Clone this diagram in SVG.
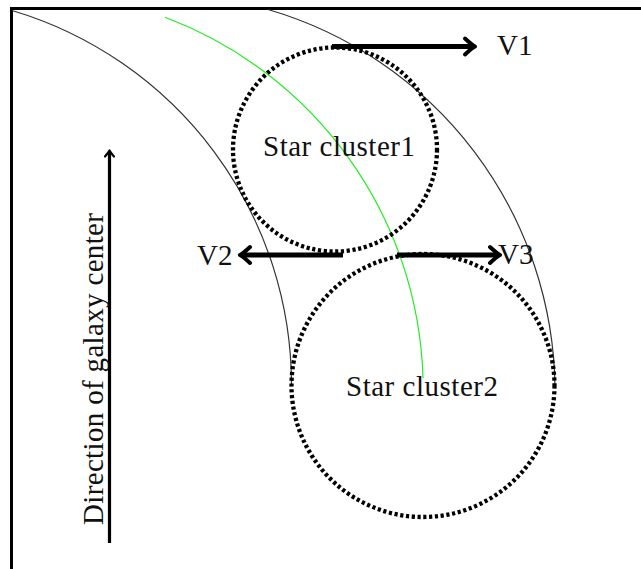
<svg xmlns="http://www.w3.org/2000/svg" width="641" height="569" viewBox="0 0 641 569">
<style>
.frame{fill:none;stroke:#000;stroke-width:3}
.arc{fill:none;stroke:#333;stroke-width:1.2}
.mid{fill:none;stroke:#22ee22;stroke-width:1.2}
.cluster{fill:none;stroke:#000;stroke-width:4.3;stroke-dasharray:3.2 2.6}
.vel{fill:none;stroke:#000;stroke-width:5}
.dir{fill:none;stroke:#000;stroke-width:3.2}
.lbl{font-family:"Liberation Serif","Times New Roman",serif;font-size:29px;fill:#111}
</style>
<defs>
<marker id="head" markerUnits="userSpaceOnUse" viewBox="-13 -10 16 20" markerWidth="16" markerHeight="20" refX="-2.5" refY="0" orient="auto" overflow="visible">
<path d="M-10,-8 Q-3,-1.5 0,0 Q-3,1.5 -10,8" fill="none" stroke="#000" stroke-width="4" stroke-linecap="round" stroke-linejoin="round"/>
</marker>
<marker id="headS" markerUnits="userSpaceOnUse" viewBox="-8 -6 10 12" markerWidth="10" markerHeight="12" refX="-1.5" refY="0" orient="auto" overflow="visible">
<path d="M-6,-4.5 Q-2,-1 0,0 Q-2,1 -6,4.5" fill="none" stroke="#000" stroke-width="2.2" stroke-linecap="round" stroke-linejoin="round"/>
</marker>
</defs>
<rect width="641" height="569" fill="#fff"/>
<path class="frame" d="M11.5 569 V8.5 H641"/>
<g id="galaxy-arm">
<path class="arc" d="M12 10.5 A391 391 0 0 1 291.5 385.5"/>
<path class="arc" d="M268 9.5 A398.5 398.5 0 0 1 555 388"/>
<path class="mid" d="M165 17.3 A398 398 0 0 1 423 378"/>
</g>
<g id="cluster1">
<circle class="cluster" cx="335" cy="149.5" r="102"/>
<text class="lbl" x="339" y="156" text-anchor="middle" textLength="152" lengthAdjust="spacing">Star cluster1</text>
</g>
<g id="cluster2">
<circle class="cluster" cx="423" cy="385.5" r="131.5"/>
<text class="lbl" x="422" y="396" text-anchor="middle" textLength="152" lengthAdjust="spacing">Star cluster2</text>
</g>
<g id="connectors">
<line class="vel" x1="332" y1="46.5" x2="472.5" y2="46.5" marker-end="url(#head)"/>
<line class="vel" x1="343" y1="255" x2="242.5" y2="255" marker-end="url(#head)"/>
<line class="vel" x1="397" y1="255" x2="497.5" y2="255" marker-end="url(#head)"/>
<line class="dir" x1="109.5" y1="543" x2="109.5" y2="152" marker-end="url(#headS)"/>
</g>
<g id="labels">
<text class="lbl" x="497" y="55">V1</text>
<text class="lbl" x="197" y="265">V2</text>
<text class="lbl" x="498" y="264">V3</text>
<text class="lbl" transform="translate(103 525) rotate(-90)" x="0" y="0" textLength="312" lengthAdjust="spacing">Direction of galaxy center</text>
</g>
</svg>
